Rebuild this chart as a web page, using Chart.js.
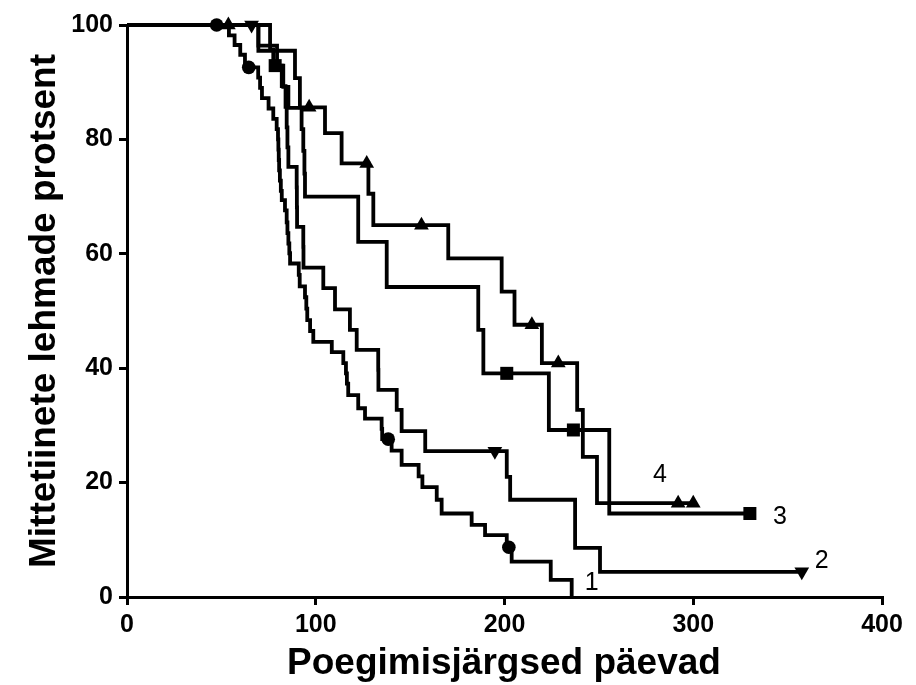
<!DOCTYPE html>
<html><head><meta charset="utf-8">
<script src="https://cdn.jsdelivr.net/npm/chart.js@4.4.0/dist/chart.umd.min.js"></script>
<style>html,body{margin:0;padding:0;background:#fff;}#wrap{width:916px;height:685px;position:relative;}</style>
</head><body><div id="wrap"><canvas id="c" width="916" height="685"></canvas></div>
<script>
// ---- data (days after calving, % of non-pregnant cows) ----
const xTickValues = [0, 100, 200, 300, 400];
const xTickLabels = ['0', '100', '200', '300', '400'];
const yTickValues = [0, 20, 40, 60, 80, 100];
const yTickLabels = ['0', '20', '40', '60', '80', '100'];
const seriesNames = ['1', '2', '3', '4'];

const group1Times = [54, 57, 60, 62.5, 69.5, 70.5, 71.5, 75, 77.5, 79.3, 80, 80.2, 80.4, 80.6, 81, 81.5, 82, 83.7, 84.6, 85, 85.5, 86, 86.4, 91, 91.5, 94.3, 95, 95.5, 97, 98.7, 108.5, 114.6, 116, 116.5, 117.2, 122.5, 126.1, 134.9, 135.2, 140.2, 145.5, 154.5, 156.5, 164.1, 166.7, 182.6, 189.7, 201.2, 203.8, 224.5, 235.6];
const group1Surv = [98.2, 96.5, 94.8, 92.6, 90.8, 89.0, 87.2, 85.4, 83.6, 81.8, 80.0, 78.2, 76.4, 74.6, 72.8, 71.0, 69.4, 67.6, 65.5, 63.6, 61.8, 60.1, 58.3, 56.3, 54.3, 52.4, 50.4, 48.4, 46.5, 44.6, 42.8, 40.9, 39.1, 37.3, 35.3, 33.0, 31.2, 29.4, 27.6, 25.6, 23.1, 21.1, 19.2, 17.0, 14.6, 12.6, 10.8, 8.7, 6.2, 3.0, 0];
const group1CensorTimes = [47.5, 64.5, 138.4, 202.3];
const group1CensorSurv = [100, 92.6, 27.6, 8.7];

const group2Times = [69.6, 79.5, 82, 84, 84.6, 85, 85.5, 89.9, 90, 90.1, 93.4, 93.5, 104, 110.2, 118.1, 121.7, 133.1, 133.2, 142.9, 145.5, 158, 201.2, 203, 237.4, 250.6, 357.5];
const group2Surv = [96.4, 92.9, 89.3, 85.7, 82.1, 78.6, 75.2, 71.6, 68.1, 64.7, 61.2, 57.6, 54.0, 50.3, 46.7, 43.2, 39.7, 36.2, 32.7, 29.0, 25.5, 21.0, 17.0, 8.6, 4.4, 4.4];
const group2CensorTimes = [66, 194.9, 357.5];
const group2CensorSurv = [100, 25.5, 4.4];

const group3Times = [75.8, 77.5, 82.8, 85.5, 92.5, 93.4, 94, 94.3, 122.5, 137.6, 186.1, 188.8, 223.5, 255.5, 330];
const group3Surv = [95.7, 92.9, 89.2, 85.5, 81.8, 78.0, 74.0, 70.0, 62.1, 54.2, 46.7, 39.1, 29.2, 14.6, 14.6];
const group3CensorTimes = [78.5, 201.2, 236.5, 330];
const group3CensorSurv = [92.9, 39.1, 29.2, 14.6];

const group4Times = [69.6, 89, 91.6, 104.9, 113.7, 127.9, 130.5, 170.2, 198.5, 205.3, 219.8, 238.5, 241.5, 249, 300];
const group4Surv = [95.5, 90.7, 85.6, 81.1, 75.8, 70.5, 65.0, 59.2, 53.4, 47.6, 40.9, 32.7, 24.5, 16.4, 16.4];
const group4CensorTimes = [53.7, 96.5, 127, 156, 214.5, 228.5, 292, 300];
const group4CensorSurv = [100, 85.6, 75.8, 65.0, 47.6, 40.9, 16.4, 16.4];

// ---- build datasets ----
function stepPoints(times, surv) {
  const pts = [{x: 0, y: 100}];
  times.forEach((t, i) => pts.push({x: t, y: surv[i]}));
  return pts;
}
function pts(times, surv) { return times.map((t, i) => ({x: t, y: surv[i]})); }

const FONT = '"Liberation Sans", Arial, Helvetica, sans-serif';
const lineStyle = {type: 'line', stepped: true, borderColor: '#000', borderWidth: 3.8, pointRadius: 0, fill: false, clip: false, order: 2};
const markStyle = {type: 'scatter', showLine: false, backgroundColor: '#000', borderColor: '#000', borderWidth: 0, clip: false, order: 1};

const datasets = [
  Object.assign({label: seriesNames[0], data: stepPoints(group1Times, group1Surv)}, lineStyle),
  Object.assign({label: seriesNames[1], data: stepPoints(group2Times, group2Surv)}, lineStyle),
  Object.assign({label: seriesNames[2], data: stepPoints(group3Times, group3Surv)}, lineStyle),
  Object.assign({label: seriesNames[3], data: stepPoints(group4Times, group4Surv)}, lineStyle),
  Object.assign({label: 'c1', data: pts(group1CensorTimes, group1CensorSurv), pointStyle: 'circle', pointRadius: 6.8}, markStyle),
  Object.assign({label: 'c2', data: pts(group2CensorTimes, group2CensorSurv), pointStyle: 'triangle', pointRotation: 180, pointRadius: 8.5}, markStyle),
  Object.assign({label: 'c3', data: pts(group3CensorTimes, group3CensorSurv), pointStyle: 'rect', pointRadius: 9.2}, markStyle),
  Object.assign({label: 'c4', data: pts(group4CensorTimes, group4CensorSurv), pointStyle: 'triangle', pointRadius: 8.5}, markStyle)
];

const textPlugin = {
  id: 'texts',
  afterDraw(chart) {
    const ctx = chart.ctx, xs = chart.scales.x, ys = chart.scales.y;
    ctx.save();
    ctx.fillStyle = '#000';
    ctx.textAlign = 'center';
    ctx.textBaseline = 'middle';
    // curve labels (anchored in data units)
    const anchors = [[246.2, 2.4], [368.1, 6.2], [345.9, 14.0], [282.4, 21.3]];
    ctx.font = '25px ' + FONT;
    seriesNames.forEach((n, i) => {
      ctx.fillText(n, xs.getPixelForValue(anchors[i][0]), ys.getPixelForValue(anchors[i][1]));
    });
    // axis titles
    ctx.font = 'bold 37px ' + FONT;
    ctx.fillText('Poegimisjärgsed päevad', 504, 664);
    ctx.translate(45, (chart.chartArea.top + chart.chartArea.bottom) / 2);
    ctx.rotate(-Math.PI / 2);
    ctx.fillText('Mittetiinete lehmade protsent', 0, 0);
    ctx.restore();
  }
};

new Chart(document.getElementById('c'), {
  data: {datasets},
  options: {
    responsive: false,
    animation: false,
    events: [],
    layout: {padding: {left: 0, right: 34, top: 25, bottom: 0}},
    plugins: {legend: {display: false}, tooltip: {enabled: false}},
    scales: {
      x: {
        type: 'linear', min: 0, max: 400,
        afterFit: s => { s.height = 88; },
        afterBuildTicks: s => { s.ticks = xTickValues.map(v => ({value: v})); },
        border: {display: true, color: '#000', width: 3},
        grid: {display: true, drawOnChartArea: false, drawTicks: true, tickLength: 8, color: '#000', lineWidth: 3},
        ticks: {color: '#000', padding: 5, maxRotation: 0, font: {family: FONT, size: 25, weight: 'bold'},
          callback: (v) => xTickLabels[xTickValues.indexOf(v)]}
      },
      y: {
        type: 'linear', min: 0, max: 100,
        afterFit: s => { s.width = 127; },
        afterBuildTicks: s => { s.ticks = yTickValues.map(v => ({value: v})); },
        border: {display: true, color: '#000', width: 3},
        grid: {display: true, drawOnChartArea: false, drawTicks: true, tickLength: 8, color: '#000', lineWidth: 3},
        ticks: {color: '#000', padding: 6, font: {family: FONT, size: 25, weight: 'bold'},
          callback: (v) => yTickLabels[yTickValues.indexOf(v)]}
      }
    }
  },
  plugins: [textPlugin]
});
</script>
</body></html>
